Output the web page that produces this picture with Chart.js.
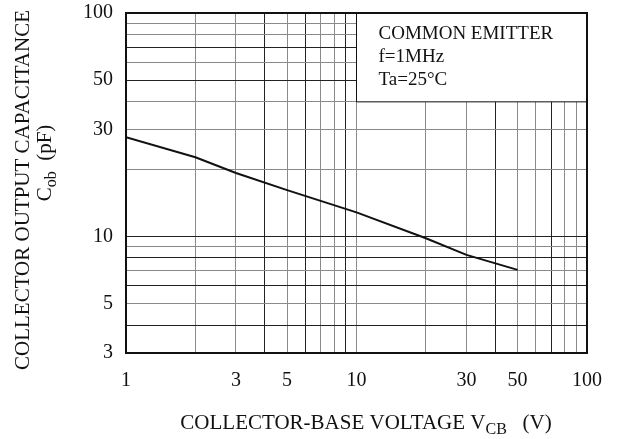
<!DOCTYPE html>
<html>
<head>
<meta charset="utf-8">
<script src="https://cdn.jsdelivr.net/npm/chart.js@4/dist/chart.umd.min.js"></script>
<style>
  html, body { margin: 0; padding: 0; background: #fff; }
  #wrap { width: 620px; height: 439px; }
</style>
</head>
<body>
<div id="wrap"><canvas id="cobChart" width="620" height="439"></canvas></div>
<script>
// data
const vcb = [1, 2, 3, 5, 10, 20, 30, 50];
const cob = [27.8, 22.6, 19.2, 16.1, 12.8, 9.8, 8.25, 7.07];

const xTickLabels = [1, 3, 5, 10, 30, 50, 100];
const yTickLabels = [3, 5, 10, 30, 50, 100];
const legendLines = ["COMMON EMITTER", "f=1MHz", "Ta=25\u00B0C"];

// grid lines that print black rather than grey
const darkX = [4, 6, 9, 40, 70];
const darkY = [4, 6, 8, 10, 50, 70];

const serif = "'Liberation Serif', 'DejaVu Serif', serif";

function logGrid(from, to) {
  const out = [];
  for (let d = 1; d <= 100; d *= 10) {
    for (let m = 1; m < 10; m++) {
      const v = m * d;
      if (v >= from && v <= to) out.push({ value: v });
    }
  }
  if (out[out.length - 1].value !== to) out.push({ value: to });
  return out;
}

// text with subscript parts, centred on x: [["C", false], ["ob", true]]
function drawRich(ctx, parts, x, y, size) {
  const big = size + "px " + serif;
  const small = Math.round(size * 0.75) + "px " + serif;
  let w = 0;
  parts.forEach((p) => {
    ctx.font = p[1] ? small : big;
    w += ctx.measureText(p[0]).width;
  });
  let cx = x - w / 2;
  parts.forEach((p) => {
    ctx.font = p[1] ? small : big;
    ctx.fillText(p[0], cx, p[1] ? y + size * 0.3 : y);
    cx += ctx.measureText(p[0]).width;
  });
}

const frame = {
  id: "frame",
  beforeDatasetsDraw(chart) {
    const { ctx, chartArea: a, scales } = chart;
    // legend box covers the grid in the upper right
    const bx = scales.x.getPixelForValue(10);
    const by = scales.y.getPixelForValue(40);
    ctx.save();
    ctx.fillStyle = "#fff";
    ctx.fillRect(bx, a.top, a.right - bx, by - a.top);
    ctx.strokeStyle = "#111";
    ctx.lineWidth = 1;
    ctx.beginPath();
    ctx.moveTo(bx, a.top);
    ctx.lineTo(bx, by);
    ctx.lineTo(a.right, by);
    ctx.stroke();
    ctx.fillStyle = "#111";
    ctx.font = "19px " + serif;
    ctx.textBaseline = "middle";
    legendLines.forEach((t, i) => {
      ctx.fillText(t, bx + 22, a.top + 21 + i * 23);
    });
    ctx.restore();
  },
  afterDraw(chart) {
    const { ctx, chartArea: a } = chart;
    ctx.save();
    ctx.strokeStyle = "#111";
    ctx.lineWidth = 2;
    ctx.strokeRect(a.left, a.top, a.right - a.left, a.bottom - a.top);

    ctx.fillStyle = "#111";
    ctx.textBaseline = "middle";
    ctx.textAlign = "left";
    drawRich(ctx, [["COLLECTOR-BASE VOLTAGE V", false], ["CB", true], ["   (V)", false]], 366, 423, 21);
    ctx.rotate(-Math.PI / 2);
    drawRich(ctx, [["COLLECTOR OUTPUT CAPACITANCE", false]], -190, 23, 21);
    drawRich(ctx, [["C", false], ["ob", true], ["  (pF)", false]], -163, 45, 21);
    ctx.restore();
  },
};

const ctx = document.getElementById("cobChart").getContext("2d");
new Chart(ctx, {
  type: "line",
  data: {
    datasets: [
      {
        data: vcb.map((v, i) => ({ x: v, y: cob[i] })),
        borderColor: "#111",
        borderWidth: 2,
        pointRadius: 0,
        tension: 0,
        fill: false,
      },
    ],
  },
  options: {
    responsive: false,
    animation: false,
    devicePixelRatio: 1,
    layout: { padding: { top: 13, right: 33, left: 0, bottom: 0 } },
    plugins: { legend: { display: false }, tooltip: { enabled: false } },
    scales: {
      x: {
        type: "logarithmic",
        min: 1,
        max: 100,
        afterBuildTicks: (s) => { s.ticks = logGrid(1, 100); },
        afterFit: (s) => {
          s.height = 86;
          s.paddingLeft = 0;
          s.paddingRight = 0;
        },
        border: { display: false },
        grid: {
          drawTicks: false,
          lineWidth: 1,
          color: (c) => (darkX.includes(c.tick && c.tick.value) ? "#222" : "#8a8a8a"),
        },
        ticks: {
          autoSkip: false,
          maxRotation: 0,
          padding: 16,
          color: "#111",
          font: { family: serif, size: 20 },
          callback: (v) => (xTickLabels.includes(v) ? String(v) : ""),
        },
      },
      y: {
        type: "logarithmic",
        min: 3,
        max: 100,
        afterBuildTicks: (s) => { s.ticks = logGrid(3, 100); },
        afterFit: (s) => {
          s.width = 126;
          s.paddingTop = 0;
          s.paddingBottom = 0;
        },
        border: { display: false },
        grid: {
          drawTicks: false,
          lineWidth: 1,
          color: (c) => (darkY.includes(c.tick && c.tick.value) ? "#222" : "#8a8a8a"),
        },
        ticks: {
          autoSkip: false,
          padding: 13,
          color: "#111",
          font: { family: serif, size: 20 },
          callback: (v) => (yTickLabels.includes(v) ? String(v) : ""),
        },
      },
    },
  },
  plugins: [frame],
});
</script>
</body>
</html>
